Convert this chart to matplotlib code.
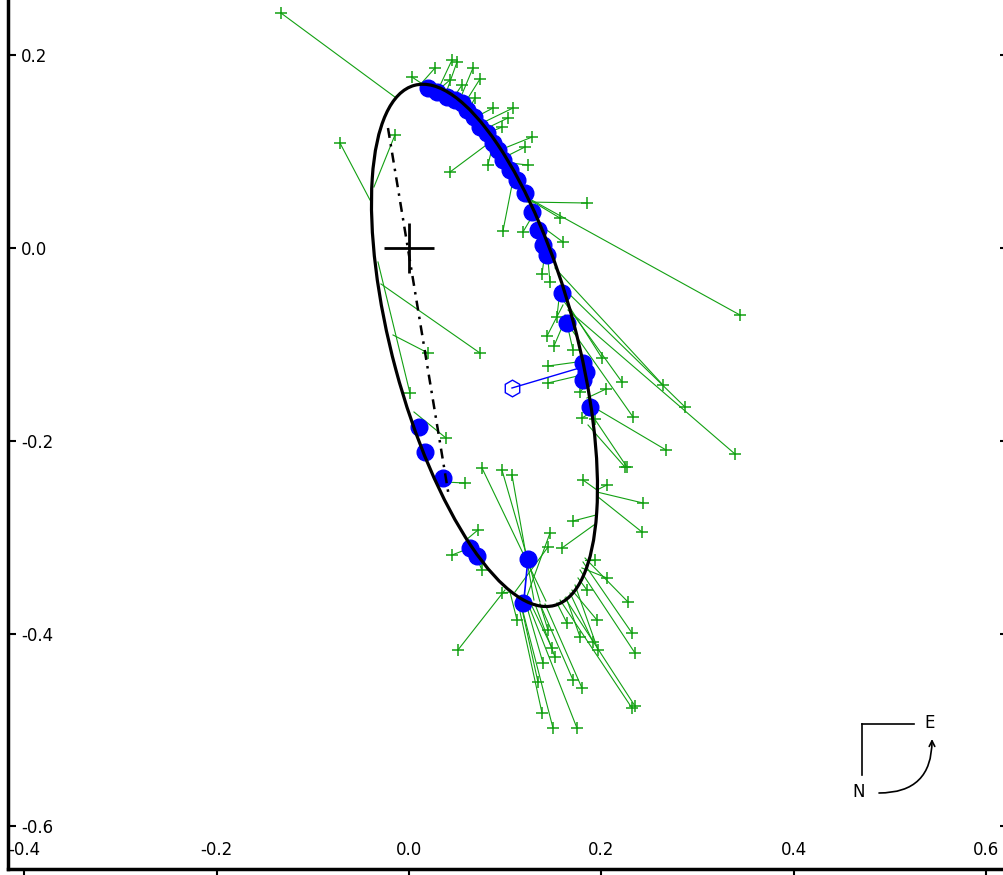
import numpy as np
import matplotlib.pyplot as plt
from matplotlib.patches import Ellipse
from matplotlib.ticker import FormatStrFormatter

# visual-orbit fit: apparent ellipse (centre, semi-axes, position angle)
orbit_center = (0.0785, -0.101)
orbit_a, orbit_b, orbit_angle = 0.2794, 0.0955, 105.1

# line of nodes (end points on the orbit)
node_x = [-0.0218, 0.0416]
node_y = [0.1245, -0.2583]

# visual / micrometer observations (green) and their predicted positions
obs_x = [-0.1331, 0.0031, 0.0270, 0.0447, 0.0499, 0.0426, 0.0551, 0.0665, 0.0738, 0.0686,
         0.0873, 0.1081, 0.1029, 0.0967, 0.0821, 0.0426, 0.1279, 0.1206, 0.1237, -0.0717,
         -0.0146, 0.1850, 0.1570, 0.1601, 0.0977, 0.1185, 0.3441, 0.1383, 0.1466, 0.1538,
         0.1435, 0.1507, 0.1705, 0.2006, 0.2214, 0.2329, 0.2640, 0.2869, 0.3389, 0.2672,
         0.2245, 0.1445, 0.1445, 0.2048, 0.1778, 0.1798, 0.1933, 0.0738, 0.0198, 0.0010,
         0.0385, 0.0759, 0.0967, 0.1071, 0.0582, 0.1809, 0.2058, 0.2266, 0.2432, 0.2422,
         0.1705, 0.0717, 0.1466, 0.1445, 0.1590, 0.0447, 0.0759, 0.0967, 0.1933, 0.2058,
         0.1850, 0.2277, 0.2318, 0.2349, 0.1965, 0.1954, 0.1778, 0.1913, 0.1642, 0.1445,
         0.1487, 0.1518, 0.1393, 0.1123, 0.0509, 0.1341, 0.1705, 0.1798, 0.1383, 0.1497,
         0.1746, 0.2318, 0.2349]
obs_y = [0.2438, 0.1774, 0.1867, 0.1950, 0.1929, 0.1743, 0.1691, 0.1867, 0.1753, 0.1556,
         0.1452, 0.1452, 0.1349, 0.1255, 0.0861, 0.0788, 0.1151, 0.1048, 0.0861, 0.1089,
         0.1172, 0.0467, 0.0311, 0.0062, 0.0176, 0.0166, -0.0695, -0.0270, -0.0353, -0.0716,
         -0.0913, -0.1017, -0.1058, -0.1141, -0.1390, -0.1753, -0.1421, -0.1649, -0.2137, -0.2095,
         -0.2272, -0.1224, -0.1400, -0.1463, -0.1494, -0.1763, -0.1774, -0.1089, -0.1089, -0.1504,
         -0.1971, -0.2282, -0.2303, -0.2355, -0.2438, -0.2407, -0.2458, -0.2272, -0.2645, -0.2946,
         -0.2832, -0.2925, -0.2956, -0.3102, -0.3112, -0.3185, -0.3340, -0.3579, -0.3236, -0.3423,
         -0.3548, -0.3672, -0.3994, -0.4201, -0.4170, -0.3859, -0.4035, -0.4087, -0.3890, -0.3963,
         -0.4149, -0.4243, -0.4305, -0.3859, -0.4170, -0.4502, -0.4481, -0.4564, -0.4824, -0.4979,
         -0.4979, -0.4772, -0.4751]
pred_x = [-0.0146, 0.0218, 0.0114, 0.0291, 0.0374, 0.0281, 0.0447, 0.0509, 0.0561, 0.0613,
          0.0676, 0.0738, 0.0790, 0.0821, 0.0884, 0.0873, 0.0946, 0.0998, 0.1050, -0.0405,
          -0.0364, 0.1227, 0.1206, 0.1320, 0.1081, 0.1289, 0.1237, 0.1414, 0.1445, 0.1570,
          0.1601, 0.1632, 0.1622, 0.1570, 0.1601, 0.1694, 0.1518, 0.1570, 0.1653, 0.1882,
          0.1861, 0.1746, 0.1798, 0.1850, 0.1840, 0.1902, 0.1913, -0.0291, -0.0166, -0.0322,
          0.0052, 0.1424, 0.1362, 0.1299, 0.0374, 0.1954, 0.1954, 0.1902, 0.1954, 0.1954,
          0.1944, 0.0593, 0.1227, 0.1102, 0.1923, 0.0634, 0.0696, 0.1050, 0.1830, 0.1798,
          0.1757, 0.1830, 0.1809, 0.1778, 0.1726, 0.1694, 0.1632, 0.1674, 0.1538, 0.1362,
          0.1258, 0.1310, 0.1206, 0.1050, 0.0998, 0.1154, 0.1362, 0.1414, 0.1123, 0.1154,
          0.1227, 0.1570, 0.1622]
pred_y = [0.1566, 0.1649, 0.1691, 0.1618, 0.1577, 0.1618, 0.1535, 0.1494, 0.1473, 0.1421,
          0.1349, 0.1286, 0.1234, 0.1193, 0.1120, 0.1120, 0.1017, 0.0944, 0.0882, 0.0498,
          0.0633, 0.0477, 0.0529, 0.0270, 0.0705, 0.0342, 0.0519, -0.0041, -0.0124, -0.0436,
          -0.0591, -0.0726, -0.0695, -0.0456, -0.0539, -0.0851, -0.0207, -0.0384, -0.0643, -0.1629,
          -0.1836, -0.1183, -0.1317, -0.1556, -0.1421, -0.1701, -0.1784, -0.0373, -0.0902, -0.0145,
          -0.1701, -0.3662, -0.3672, -0.3651, -0.2427, -0.2510, -0.2510, -0.1732, -0.2531, -0.2573,
          -0.2770, -0.3029, -0.3610, -0.3568, -0.2873, -0.3112, -0.3195, -0.3568, -0.3236, -0.3319,
          -0.3423, -0.3216, -0.3257, -0.3340, -0.3496, -0.3548, -0.3620, -0.3579, -0.3682, -0.3693,
          -0.3672, -0.3693, -0.3651, -0.3568, -0.3548, -0.3651, -0.3693, -0.3693, -0.3631, -0.3651,
          -0.3662, -0.3651, -0.3631]

# speckle observations (blue filled)
spk_x = [0.0198, 0.0291, 0.0395, 0.0478, 0.0551, 0.0603, 0.0676, 0.0738, 0.0811, 0.0873,
         0.0925, 0.0977, 0.1050, 0.1123, 0.1206, 0.1279, 0.1341, 0.1393, 0.1435, 0.1590,
         0.1642, 0.1809, 0.1840, 0.1809, 0.1882, 0.0104, 0.0166, 0.0353, 0.0634, 0.0707,
         0.1185, 0.1237]
spk_y = [0.1660, 0.1618, 0.1566, 0.1535, 0.1504, 0.1431, 0.1359, 0.1255, 0.1193, 0.1089,
         0.1017, 0.0913, 0.0809, 0.0705, 0.0571, 0.0373, 0.0187, 0.0031, -0.0073, -0.0467,
         -0.0778, -0.1193, -0.1286, -0.1369, -0.1649, -0.1857, -0.2116, -0.2386, -0.3112, -0.3195,
         -0.3683, -0.3226]
spk_pred_x = [0.1195]
spk_pred_y = [-0.3651]

# odd observation (open hexagon)
hex_x, hex_y = 0.1071, -0.1452
hex_pred_x, hex_pred_y = 0.1809, -0.1234

green = "#12a012"
fig = plt.figure(figsize=(10.04, 8.75), dpi=100)
ax = fig.add_axes([8 / 1004, 6 / 875, 1000 / 1004, 872 / 875])

for ox, oy, px, py in zip(obs_x, obs_y, pred_x, pred_y):
    ax.plot([ox, px], [oy, py], color=green, lw=0.8, zorder=1)
ax.plot(obs_x, obs_y, "+", color=green, ms=9, mew=1.1, zorder=2)

ax.plot([spk_x[-1], spk_pred_x[0]], [spk_y[-1], spk_pred_y[0]], color="blue", lw=1.2, zorder=3)
ax.plot(spk_x, spk_y, "o", color="blue", ms=12, mec="blue", zorder=3)
ax.plot([hex_x, hex_pred_x], [hex_y, hex_pred_y], color="blue", lw=1, zorder=3)
ax.plot(hex_x, hex_y, "h", ms=12, mfc="none", mec="blue", mew=1, zorder=3)

orbit = Ellipse(orbit_center, 2 * orbit_a, 2 * orbit_b, angle=orbit_angle,
                fill=False, color="black", lw=2.3, zorder=4)
ax.add_patch(orbit)
ax.plot(node_x, node_y, color="black", lw=1.8, ls=(0, (4, 2.5, 1, 2.5)), zorder=4)
ax.plot(0, 0, "+", color="black", ms=36, mew=2, zorder=5)

ax.set_xlim(-0.4168, 0.6227)
ax.set_ylim(-0.6442, 0.2604)
ax.set_xticks([-0.4, -0.2, 0.0, 0.2, 0.4, 0.6])
ax.set_yticks([-0.6, -0.4, -0.2, 0.0, 0.2])
ax.xaxis.set_major_formatter(FormatStrFormatter("%.1f"))
ax.yaxis.set_major_formatter(FormatStrFormatter("%.1f"))
ax.tick_params(axis="y", direction="in", length=6, width=1.5, pad=-9.5,
               labelsize=12, right=True)
ax.tick_params(axis="x", direction="out", length=5, width=1.5, pad=-19, labelsize=12)
for lab in ax.get_yticklabels():
    lab.set_horizontalalignment("left")
for lab in ax.get_xticklabels():
    lab.set_verticalalignment("center")
for side in ["left", "bottom"]:
    ax.spines[side].set_linewidth(2.5)

# N-E compass (figure pixel positions)
def fpos(x, y):
    return x / 1004, 1 - y / 875

fig.add_artist(plt.Line2D(*zip(fpos(862, 724), fpos(914, 724)), transform=fig.transFigure,
                          color="black", lw=1.2))
fig.add_artist(plt.Line2D(*zip(fpos(862, 724), fpos(862, 775)), transform=fig.transFigure,
                          color="black", lw=1.2))
fig.text(*fpos(930, 723), "E", ha="center", va="center", fontsize=12)
fig.text(*fpos(859, 792), "N", ha="center", va="center", fontsize=12)
ax.annotate("", xy=fpos(932, 739), xycoords="figure fraction",
            xytext=fpos(879, 793), textcoords="figure fraction",
            arrowprops=dict(arrowstyle="->", lw=1.2, color="black",
                            connectionstyle="angle3,angleA=0,angleB=90",
                            shrinkA=0, shrinkB=0))

fig.savefig("out.png", dpi=100)
